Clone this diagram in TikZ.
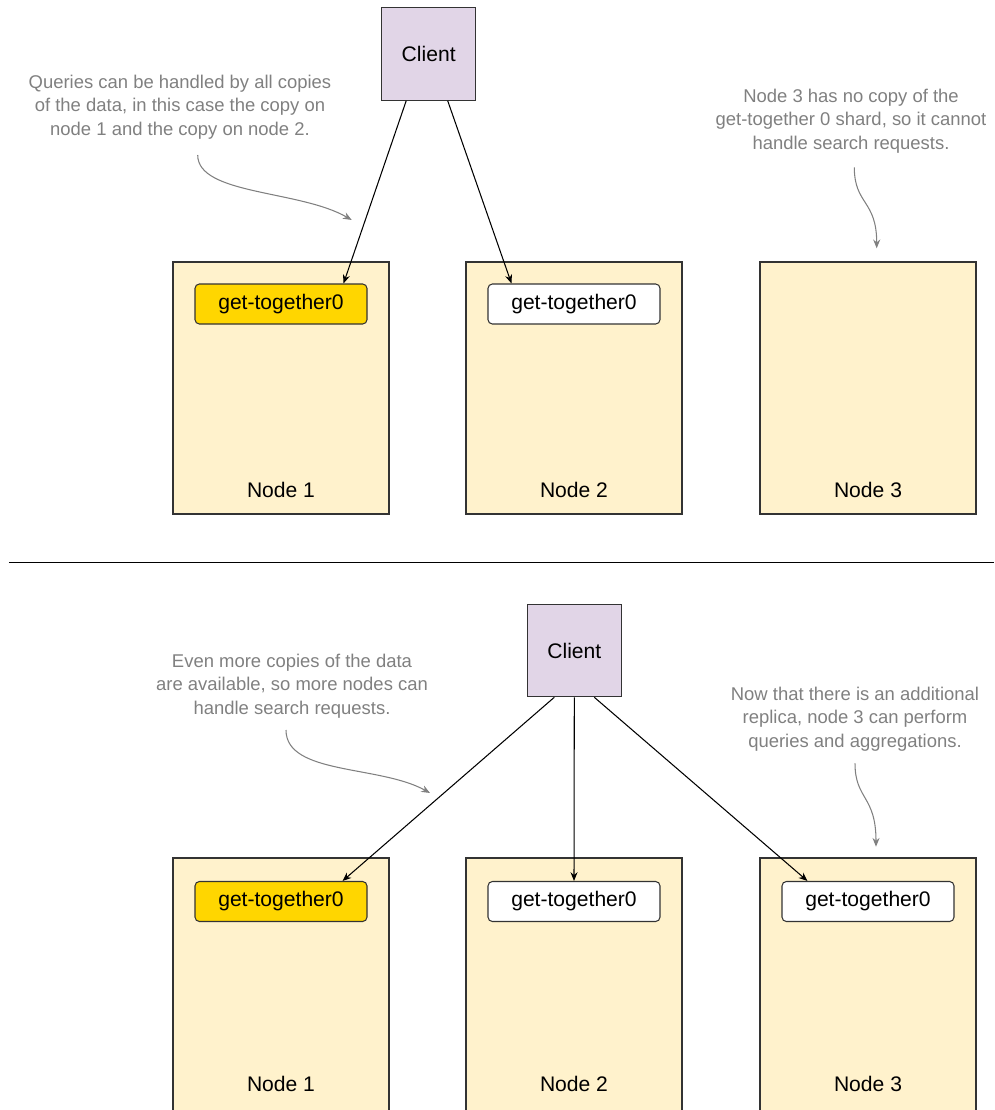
\documentclass[tikz,border=0pt]{standalone}
\definecolor{hostfill}{RGB}{255, 242, 204}
\definecolor{clientfill}{RGB}{225, 213, 231}
\definecolor{primgold}{RGB}{255, 214, 0}
\definecolor{notegray}{RGB}{128, 128, 128}
\usepackage{fontspec}
\setmainfont{Liberation Sans}
\usepackage{tikz}
\usetikzlibrary{arrows.meta, positioning, calc}

\begin{document}
\begin{tikzpicture}[
  host/.style={draw=black!80, fill=hostfill, line width=0.6pt, minimum width=4.32cm, minimum height=5.04cm},
  client/.style={draw=black!80, fill=clientfill, line width=0.6pt, minimum width=1.87cm, minimum height=1.85cm, font=\fontsize{12}{14}\selectfont},
  shard/.style={draw=black!80, rounded corners=2.5pt, line width=0.6pt, minimum width=3.44cm, minimum height=0.8cm, font=\fontsize{12}{14}\selectfont},
  hostname/.style={font=\fontsize{12}{14}\selectfont},
  note/.style={align=center, text=notegray, font=\fontsize{10.5}{13.3}\selectfont},
  req/.style={-{Stealth[length=5pt, width=4pt]}, line width=0.6pt},
  pointer/.style={-{Stealth[length=5pt, width=4pt]}, line width=0.6pt, draw=notegray}
]
  \useasboundingbox (0, 0) rectangle (19.88, -22.2);

  % Top: one replica missing
  \node[client] (clt) at (8.574, -1.08) {Client};

  \node[host] (h1t) at (5.62, -7.76) {};
  \node[host] (h2t) at (11.48, -7.76) {};
  \node[host] (h3t) at (17.36, -7.76) {};

  \node[shard, fill=primgold] (g1t) at (5.62, -6.08) {get-together0};
  \node[shard, fill=white] (g2t) at (11.48, -6.08) {get-together0};

  \node[hostname] (l1t) at (5.62, -9.8) {Node 1};
  \node[hostname] (l2t) at (11.48, -9.8) {Node 2};
  \node[hostname] (l3t) at (17.36, -9.8) {Node 3};

  \draw[req] ([xshift=-0.45cm]clt.south) -- ([xshift=-0.48cm]g1t.north east);
  \draw[req] ([xshift=0.38cm]clt.south) -- ([xshift=0.48cm]g2t.north west);

  \node[note] (qt) at (3.6, -2.14) {Queries can be handled by all copies\\of the data, in this case the copy on\\node 1 and the copy on node 2.};
  \node[note] (nt) at (17.02, -2.42) {Node 3 has no copy of the\\get-together 0 shard, so it cannot\\handle search requests.};

  \coordinate (qt-from) at (3.954, -3.1);
  \coordinate (qt-to) at (7.034, -4.4);
  \coordinate (nt-from) at (17.086, -3.346);
  \coordinate (nt-to) at (17.534, -4.966);
  \draw[pointer] (qt-from) .. controls +(0, -0.8) and +(-1.03, 0.6) .. (qt-to);
  \draw[pointer] (nt-from) .. controls +(0, -0.75) and +(0, 0.97) .. (nt-to);

  % Separator
  \draw[line width=0.6pt] (0.18, -11.25) -- (19.88, -11.25);

  % Bottom: replica on every node
  \node[client] (clb) at (11.486, -13.01) {Client};

  \node[host, minimum height=5.3cm] (h1b) at (5.62, -19.81) {};
  \node[host, minimum height=5.3cm] (h2b) at (11.48, -19.81) {};
  \node[host, minimum height=5.3cm] (h3b) at (17.36, -19.81) {};

  \node[shard, fill=primgold] (g1b) at (5.62, -18.03) {get-together0};
  \node[shard, fill=white] (g2b) at (11.48, -18.03) {get-together0};
  \node[shard, fill=white] (g3b) at (17.36, -18.03) {get-together0};

  \node[hostname] (l1b) at (5.62, -21.68) {Node 1};
  \node[hostname] (l2b) at (11.48, -21.68) {Node 2};
  \node[hostname] (l3b) at (17.36, -21.68) {Node 3};

  \draw[req] ([xshift=-0.4cm]clb.south) -- ([xshift=-0.5cm]g1b.north east);
  \draw[req] (clb.south) -- (g2b.north);
  \draw[req] ([xshift=0.4cm]clb.south) -- ([xshift=0.52cm]g3b.north west);

  \node[note] (qb) at (5.84, -13.72) {Even more copies of the data\\are available, so more nodes can\\handle search requests.};
  \node[note] (nb) at (17.1, -14.38) {Now that there is an additional\\replica, node 3 can perform\\queries and aggregations.};

  \coordinate (qb-from) at (5.72, -14.6);
  \coordinate (qb-to) at (8.6, -15.86);
  \coordinate (nb-from) at (17.1, -15.266);
  \coordinate (nb-to) at (17.52, -16.934);
  \draw[pointer] (qb-from) .. controls +(0, -0.9) and +(-1.0, 0.56) .. (qb-to);
  \draw[pointer] (nb-from) .. controls +(0, -0.73) and +(0, 1.03) .. (nb-to);
\end{tikzpicture}
\end{document}
